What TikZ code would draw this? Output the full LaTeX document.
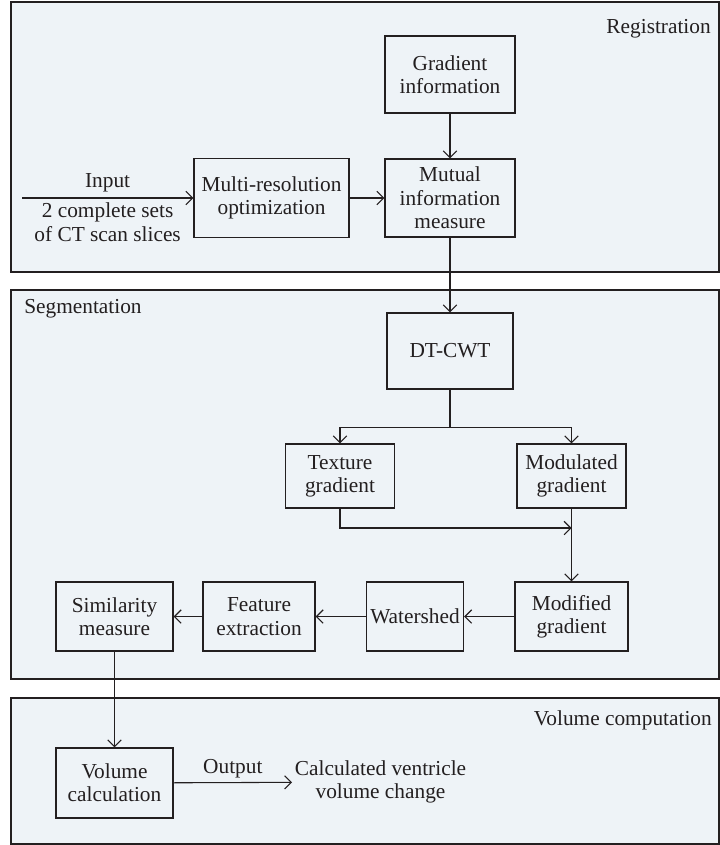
\documentclass[tikz,border=0pt]{standalone}
\usepackage{fontspec}
\setmainfont{Liberation Serif}
\usetikzlibrary{arrows.meta}
\definecolor{panelfill}{HTML}{EEF3F7}
\definecolor{ink}{HTML}{231F20}
\tikzset{
    every node/.style={font=\fontsize{16}{17.5}\selectfont, text=ink}
}
\tikzset{
    block/.style={rectangle, draw=ink, line width=1.1pt, align=center,
    	inner sep=0pt},
    panel/.style={draw=ink, line width=1.1pt, fill=panelfill},
    tag/.style={inner sep=0pt},
    flow/.style={draw=ink, line width=0.8pt,
    	-{Straight Barb[length=5pt,width=10pt]}}
}
\tikzset{
    every edge/.append style={flow}
}

\begin{document}
\begin{tikzpicture}[x=0.75pt, y=-0.75pt]
	\useasboundingbox (0,0) rectangle (720,845);
	% the three stages
	\draw[panel] (11,2) rectangle (719,272);
	\draw[panel] (11,290) rectangle (719,679);
	\draw[panel] (11,698) rectangle (719,844);
	\node (reg) [tag, anchor=east] at (711,29) {Registration};
	\node (seg) [tag, anchor=west] at (24,309) {Segmentation};
	\node (vol) [tag, anchor=east] at (712,720) {Volume computation};

	\coordinate (in) at (22,198);
	\node (gradinfo) [block, minimum width=97.5pt, minimum height=57.75pt]
		at (450,74.5) {Gradient\\information};
	\node (mutual) [block, minimum width=97.5pt, minimum height=58.5pt]
		at (450,198) {Mutual\\information\\measure};
	\node (multires) [block, minimum width=116.25pt, minimum height=59.25pt]
		at (271.5,198) {Multi-resolution\\optimization};
	\node (dtcwt) [block, minimum width=94.5pt, minimum height=57pt]
		at (450,351) {DT-CWT};
	\node (texture) [block, minimum width=81.75pt, minimum height=48pt]
		at (340,476) {Texture\\gradient};
	\node (modulated) [block, minimum width=81.75pt, minimum height=48pt]
		at (571.5,476) {Modulated\\gradient};
	\coordinate (join) at (571.5,528);
	\node (modified) [block, minimum width=84.75pt, minimum height=51.75pt]
		at (571.5,616.5) {Modified\\gradient};
	\node (watershed) [block, minimum width=72.75pt, minimum height=51.75pt]
		at (415,616.5) {Watershed};
	\node (feature) [block, minimum width=84pt, minimum height=51.75pt]
		at (259,616.5) {Feature\\extraction};
	\node (similarity) [block, minimum width=87.75pt, minimum height=51.75pt]
		at (114.5,616.5) {Similarity\\measure};
	\node (volcalc) [block, minimum width=87.75pt, minimum height=52.5pt]
		at (114.5,783) {Volume\\calculation};
	\node (result) [align=center, inner sep=2pt, anchor=west]
		at (292,782) {Calculated ventricle\\volume change};

	\draw (in) edge node[above=1pt] {Input}
		node[below, align=center] {2 complete sets\\of CT scan slices} (multires);
	\draw (multires) edge (mutual);
	\draw (gradinfo) edge (mutual);
	\draw (mutual) edge (dtcwt);
	\draw[flow] (dtcwt.south) -- ++(0,38) -| (texture.north);
	\draw[flow] (dtcwt.south) -- ++(0,38) -| (modulated.north);
	\draw[flow] (texture.south) |- (join);
	\draw (modulated) edge (modified);
	\draw (modified) edge (watershed);
	\draw (watershed) edge (feature);
	\draw (feature) edge (similarity);
	\draw (similarity) edge (volcalc);
	\draw (volcalc) edge node[above] {Output} (result);
\end{tikzpicture}
\end{document}
